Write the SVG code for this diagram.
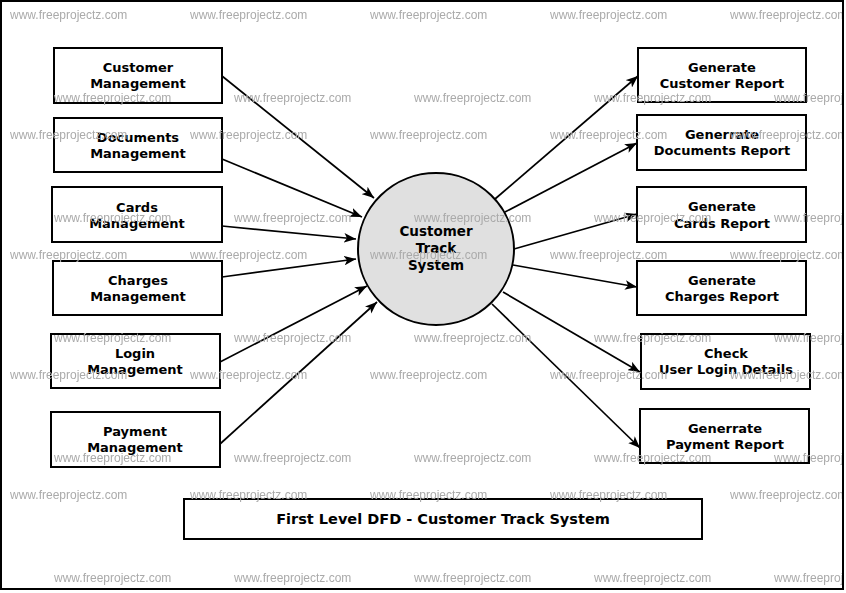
<svg xmlns="http://www.w3.org/2000/svg" width="846" height="593" viewBox="0 0 846 593">
<defs>
<style>
.box{fill:#fff;stroke:#000;stroke-width:2}
.lbl{font-family:"DejaVu Sans",sans-serif;font-weight:bold;font-size:13px;fill:#000;text-anchor:middle}
.conn{stroke:#000;stroke-width:1.7;fill:none;marker-end:url(#arr)}
.wm{font-family:"Liberation Sans",Arial,sans-serif;font-size:12px;fill:#aaaaaa;mix-blend-mode:darken}
</style>
<marker id="arr" markerUnits="userSpaceOnUse" viewBox="0 0 10 8" markerWidth="12" markerHeight="10" refX="10" refY="4" orient="auto">
<path d="M0,0 L10,4 L0,8 L2.5,4 z" fill="#000"/>
</marker>
<clipPath id="frameClip"><rect x="2" y="2" width="840" height="587"/></clipPath>
</defs>
<rect x="0" y="0" width="846" height="593" fill="#fff"/>
<rect x="1" y="1" width="842" height="588" fill="#fff" stroke="#000" stroke-width="2"/>

<g id="connectors">
<line class="conn" x1="222" y1="76" x2="374" y2="198"/>
<line class="conn" x1="222" y1="159" x2="362" y2="217"/>
<line class="conn" x1="222" y1="226" x2="356" y2="239"/>
<line class="conn" x1="222" y1="277" x2="356" y2="259"/>
<line class="conn" x1="220" y1="362" x2="367" y2="286"/>
<line class="conn" x1="220" y1="444" x2="377" y2="302"/>
<line class="conn" x1="495" y1="199" x2="638" y2="76"/>
<line class="conn" x1="505" y1="212" x2="637" y2="143"/>
<line class="conn" x1="514" y1="249" x2="637" y2="214"/>
<line class="conn" x1="513" y1="265" x2="637" y2="287"/>
<line class="conn" x1="503" y1="292" x2="640" y2="372"/>
<line class="conn" x1="492" y1="304" x2="640" y2="448"/>
</g>

<g id="center">
<ellipse cx="436" cy="249" rx="78" ry="76" fill="#e0e0e0" stroke="#000" stroke-width="2"/>
<text class="lbl" style="font-size:13.5px" x="436" y="236">Customer</text>
<text class="lbl" style="font-size:13.5px" x="436" y="253">Track</text>
<text class="lbl" style="font-size:13.5px" x="436" y="270">System</text>
</g>

<g id="customer-management">
<rect class="box" x="54" y="48" width="168" height="55"/>
<text class="lbl" x="138" y="72">Customer</text>
<text class="lbl" x="138" y="88">Management</text>
</g>
<g id="documents-management">
<rect class="box" x="54" y="118" width="168" height="54"/>
<text class="lbl" x="138" y="142">Documents</text>
<text class="lbl" x="138" y="158">Management</text>
</g>
<g id="cards-management">
<rect class="box" x="52" y="187" width="170" height="55"/>
<text class="lbl" x="137" y="212">Cards</text>
<text class="lbl" x="137" y="228">Management</text>
</g>
<g id="charges-management">
<rect class="box" x="53" y="261" width="169" height="54"/>
<text class="lbl" x="138" y="285">Charges</text>
<text class="lbl" x="138" y="301">Management</text>
</g>
<g id="login-management">
<rect class="box" x="51" y="334" width="169" height="54"/>
<text class="lbl" x="135" y="358">Login</text>
<text class="lbl" x="135" y="374">Management</text>
</g>
<g id="payment-management">
<rect class="box" x="51" y="412" width="169" height="55"/>
<text class="lbl" x="135" y="436">Payment</text>
<text class="lbl" x="135" y="452">Management</text>
</g>

<g id="generate-customer-report">
<rect class="box" x="638" y="48" width="168" height="54"/>
<text class="lbl" x="722" y="72">Generate</text>
<text class="lbl" x="722" y="88">Customer Report</text>
</g>
<g id="generate-documents-report">
<rect class="box" x="637" y="115" width="169" height="55"/>
<text class="lbl" x="722" y="139">Generrate</text>
<text class="lbl" x="722" y="155">Documents Report</text>
</g>
<g id="generate-cards-report">
<rect class="box" x="637" y="187" width="169" height="55"/>
<text class="lbl" x="722" y="211">Generate</text>
<text class="lbl" x="722" y="228">Cards Report</text>
</g>
<g id="generate-charges-report">
<rect class="box" x="637" y="261" width="169" height="54"/>
<text class="lbl" x="722" y="285">Generate</text>
<text class="lbl" x="722" y="301">Charges Report</text>
</g>
<g id="check-user-login">
<rect class="box" x="641" y="334" width="169" height="55"/>
<text class="lbl" x="726" y="358">Check</text>
<text class="lbl" x="726" y="374">User Login Details</text>
</g>
<g id="generate-payment-report">
<rect class="box" x="640" y="409" width="169" height="54"/>
<text class="lbl" x="725" y="433">Generrate</text>
<text class="lbl" x="725" y="449">Payment Report</text>
</g>

<g id="title">
<rect class="box" x="184" y="499" width="518" height="40"/>
<text class="lbl" style="font-size:14.5px" x="443" y="524">First Level DFD - Customer Track System</text>
</g>

<g id="watermark" clip-path="url(#frameClip)">
<text class="wm" x="10" y="19">www.freeprojectz.com</text><text class="wm" x="190" y="19">www.freeprojectz.com</text><text class="wm" x="370" y="19">www.freeprojectz.com</text><text class="wm" x="550" y="19">www.freeprojectz.com</text><text class="wm" x="730" y="19">www.freeprojectz.com</text>
<text class="wm" x="54" y="102">www.freeprojectz.com</text><text class="wm" x="234" y="102">www.freeprojectz.com</text><text class="wm" x="414" y="102">www.freeprojectz.com</text><text class="wm" x="594" y="102">www.freeprojectz.com</text><text class="wm" x="774" y="102">www.freeprojectz.com</text>
<text class="wm" x="10" y="139">www.freeprojectz.com</text><text class="wm" x="190" y="139">www.freeprojectz.com</text><text class="wm" x="370" y="139">www.freeprojectz.com</text><text class="wm" x="550" y="139">www.freeprojectz.com</text><text class="wm" x="730" y="139">www.freeprojectz.com</text>
<text class="wm" x="54" y="222">www.freeprojectz.com</text><text class="wm" x="234" y="222">www.freeprojectz.com</text><text class="wm" x="414" y="222">www.freeprojectz.com</text><text class="wm" x="594" y="222">www.freeprojectz.com</text><text class="wm" x="774" y="222">www.freeprojectz.com</text>
<text class="wm" x="10" y="259">www.freeprojectz.com</text><text class="wm" x="190" y="259">www.freeprojectz.com</text><text class="wm" x="370" y="259">www.freeprojectz.com</text><text class="wm" x="550" y="259">www.freeprojectz.com</text><text class="wm" x="730" y="259">www.freeprojectz.com</text>
<text class="wm" x="54" y="342">www.freeprojectz.com</text><text class="wm" x="234" y="342">www.freeprojectz.com</text><text class="wm" x="414" y="342">www.freeprojectz.com</text><text class="wm" x="594" y="342">www.freeprojectz.com</text><text class="wm" x="774" y="342">www.freeprojectz.com</text>
<text class="wm" x="10" y="379">www.freeprojectz.com</text><text class="wm" x="190" y="379">www.freeprojectz.com</text><text class="wm" x="370" y="379">www.freeprojectz.com</text><text class="wm" x="550" y="379">www.freeprojectz.com</text><text class="wm" x="730" y="379">www.freeprojectz.com</text>
<text class="wm" x="54" y="462">www.freeprojectz.com</text><text class="wm" x="234" y="462">www.freeprojectz.com</text><text class="wm" x="414" y="462">www.freeprojectz.com</text><text class="wm" x="594" y="462">www.freeprojectz.com</text><text class="wm" x="774" y="462">www.freeprojectz.com</text>
<text class="wm" x="10" y="499">www.freeprojectz.com</text><text class="wm" x="190" y="499">www.freeprojectz.com</text><text class="wm" x="370" y="499">www.freeprojectz.com</text><text class="wm" x="550" y="499">www.freeprojectz.com</text><text class="wm" x="730" y="499">www.freeprojectz.com</text>
<text class="wm" x="54" y="582">www.freeprojectz.com</text><text class="wm" x="234" y="582">www.freeprojectz.com</text><text class="wm" x="414" y="582">www.freeprojectz.com</text><text class="wm" x="594" y="582">www.freeprojectz.com</text><text class="wm" x="774" y="582">www.freeprojectz.com</text>
</g>
</svg>
